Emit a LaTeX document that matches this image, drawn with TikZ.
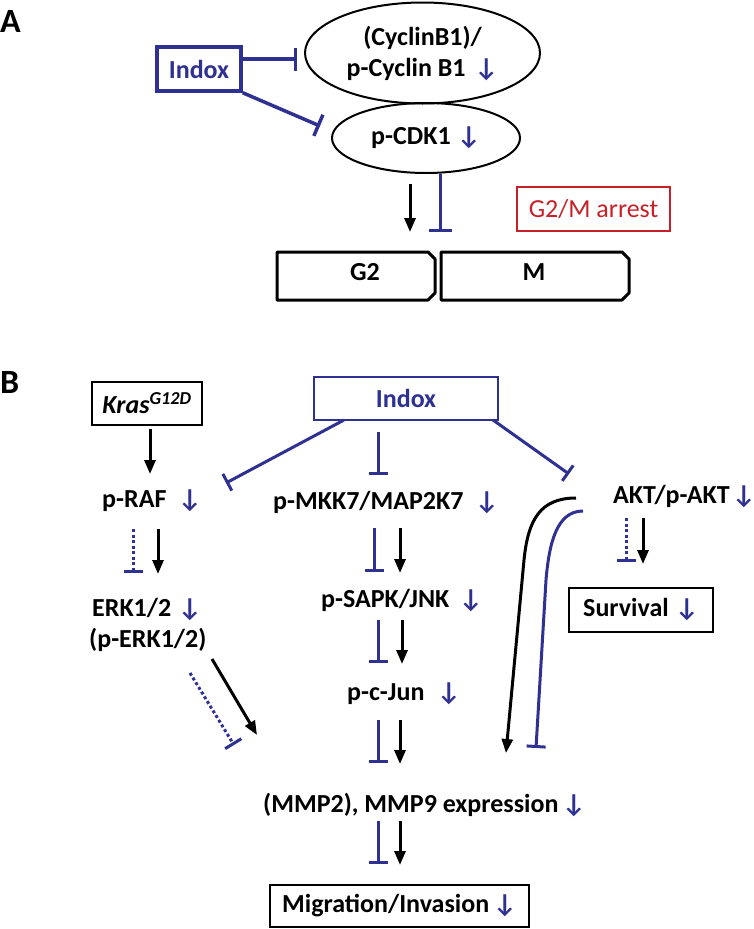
\documentclass[tikz,border=0pt]{standalone}
\usepackage{fontspec}
\setmainfont{Carlito}
\usetikzlibrary{arrows.meta,shapes.geometric,calc}
\definecolor{ablue}{RGB}{46,49,146}
\definecolor{ared}{RGB}{200,32,40}
\newcommand\dnlab[2]{\makebox[#1][l]{#2}{\color{ablue}↓}}
\begin{document}
\begin{tikzpicture}[x=1pt,y=-1pt,
  every node/.style={font=\fontsize{26}{31}\selectfont\bfseries, inner sep=0pt},
  lbl/.style={anchor=base west},
  panel/.style={anchor=base west, font=\fontsize{34}{34}\selectfont\bfseries},
  act/.style={draw=black, line width=3pt, -{Triangle[length=14pt,width=11pt]}},
  inh/.style={draw=ablue, line width=3pt, -{Bar[width=19pt]}},
  inhA/.style={draw=ablue, line width=3.5pt, -{Bar[width=23pt]}},
  inhd/.style={inh, dash pattern=on 3pt off 2.5pt},
  blackbox/.style={draw=black, line width=2.5pt, rectangle},
  oval/.style={draw=black, line width=2pt, ellipse, align=center},
  phase/.style={draw=black, line width=3pt, line join=round}
]
\useasboundingbox (0,0) rectangle (754,929);

% ---------------- Panel A ----------------
\node[panel] (labA) at (0,32) {A};
\node[draw=ablue, line width=3.5pt, text=ablue, minimum width=84pt, minimum height=44pt] (indoxA) at (199,69) {Indox};
\node[oval, minimum width=235pt, minimum height=101pt] (cyc) at (422.5,53) {(CyclinB1)/\\\dnlab{128pt}{p-Cyclin B1}};
\node[oval, minimum width=188pt, minimum height=70pt] (cdk) at (426,138) {\dnlab{86pt}{p-CDK1}};
\node[draw=ared, line width=2pt, text=ared, font=\fontsize{26}{31}\selectfont\mdseries, minimum width=153pt, minimum height=44pt] (arrest) at (593.5,209) {G2/M arrest};

\draw[phase] (277,252) -- (428,252) -- (435,259) -- (435,293) -- (428,300) -- (277,300) -- cycle;
\draw[phase] (441,252) -- (622,252) -- (629,259) -- (629,293) -- (622,300) -- (441,300) -- cycle;
\node[anchor=base] (g2) at (365,280) {G2};
\node[anchor=base] (m) at (534,280) {M};

\coordinate (iA1) at (297,59);
\coordinate (iA2) at (320,126);
\draw[inhA] ($(indoxA.east)+(0,-10)$) -- (iA1);
\draw[inhA] (indoxA.south east) -- (iA2);
\coordinate (cdkA1) at (410,184);
\coordinate (cdkA2) at (410,232);
\draw[act] (cdkA1) -- (cdkA2);
\coordinate (cdkI2) at (440,232);
\draw[inhA, line width=3pt] ($(cdk.south)+(14,0)$) -- (cdkI2);

% ---------------- Panel B ----------------
\node[panel] (labB) at (0,393) {B};
\node[blackbox, minimum width=110pt, minimum height=43pt] (kras) at (147,403.5) {\textit{Kras}\textsuperscript{\textit{G12D}}};
\node[draw=ablue, line width=2pt, text=ablue, minimum width=184pt, minimum height=43pt] (indoxB) at (406,398.5) {Indox};

\node[lbl] (raf) at (102,507) {\dnlab{76pt}{p-RAF}};
\node[lbl] (mkk) at (273,509) {\dnlab{202pt}{p-MKK7/MAP2K7}};
\node[lbl] (akt) at (613,503) {\dnlab{119pt}{AKT/p-AKT}};
\node[lbl] (erk) at (92,616) {\dnlab{86pt}{ERK1/2}};
\node[lbl] (perk) at (89,647) {(p-ERK1/2)};
\node[lbl] (sapk) at (321,607) {\dnlab{138pt}{p-SAPK/JNK}};
\node[lbl] (jun) at (347,700) {\dnlab{90pt}{p-c-Jun}};
\node[lbl] (mmp) at (263,812) {\dnlab{299pt}{(MMP2), MMP9 expression}};
\node[blackbox, minimum width=144pt, minimum height=44pt] (surv) at (641,610) {\dnlab{92pt}{Survival}};
\node[blackbox, minimum width=259pt, minimum height=42pt] (mig) at (399.5,906) {\dnlab{211pt}{Migration/Invasion}};

% Kras -> RAF
\coordinate (k1) at (150,429); \coordinate (k2) at (150,474);
\draw[act] (k1) -- (k2);
% Indox inhibitions
\coordinate (ib1s) at (344,420); \coordinate (ib1e) at (226,483);
\draw[inh] (ib1s) -- (ib1e);
\coordinate (ib2s) at (378,432); \coordinate (ib2e) at (378,475);
\draw[inh] (ib2s) -- (ib2e);
\coordinate (ib3s) at (493,420); \coordinate (ib3e) at (569,474);
\draw[inh] (ib3s) -- (ib3e);

% RAF -> ERK
\coordinate (r1) at (133,529); \coordinate (r2) at (133,573);
\draw[inhd] (r1) -- (r2);
\coordinate (r3) at (158,529); \coordinate (r4) at (158,574);
\draw[act] (r3) -- (r4);
% MKK -> SAPK
\coordinate (mk1) at (374,528); \coordinate (mk2) at (374,572);
\draw[inh] (mk1) -- (mk2);
\coordinate (mk3) at (400,528); \coordinate (mk4) at (400,573);
\draw[act] (mk3) -- (mk4);
% AKT -> Survival
\coordinate (ak1) at (626,518); \coordinate (ak2) at (626,562);
\draw[inhd] (ak1) -- (ak2);
\coordinate (ak3) at (643,518); \coordinate (ak4) at (643,564);
\draw[act] (ak3) -- (ak4);
% SAPK -> Jun
\coordinate (s1) at (378,620); \coordinate (s2) at (378,663);
\draw[inh] (s1) -- (s2);
\coordinate (s3) at (402,620); \coordinate (s4) at (402,664);
\draw[act] (s3) -- (s4);
% Jun -> MMP
\coordinate (j1) at (378,720); \coordinate (j2) at (378,763);
\draw[inh] (j1) -- (j2);
\coordinate (j3) at (400,720); \coordinate (j4) at (400,764);
\draw[act] (j3) -- (j4);
% MMP -> Migration
\coordinate (mm1) at (378,821); \coordinate (mm2) at (378,864);
\draw[inh] (mm1) -- (mm2);
\coordinate (mm3) at (400,821); \coordinate (mm4) at (400,865);
\draw[act] (mm3) -- (mm4);
% ERK -> MMP
\coordinate (e1) at (212,659); \coordinate (e2) at (257,735);
\draw[act] (e1) -- (e2);
\coordinate (e3) at (190,673); \coordinate (e4) at (234,745);
\draw[inhd] (e3) -- (e4);
% AKT -> MMP curves
\coordinate (c1) at (576,498); \coordinate (c2) at (506,753);
\draw[act] (c1) .. controls (540,498) and (528,520) .. (524,560) -- (c2);
\coordinate (c3) at (583,511); \coordinate (c4) at (536,748);
\draw[inh] (c3) .. controls (556,511) and (549,545) .. (546,580) -- (c4);
\end{tikzpicture}
\end{document}
